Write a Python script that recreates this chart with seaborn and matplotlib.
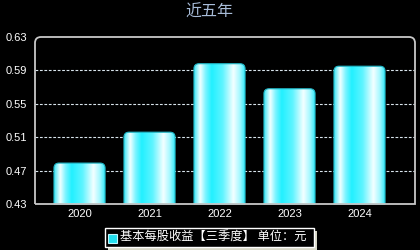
import numpy as np
import pandas as pd
import seaborn as sns
import matplotlib
matplotlib.use("Agg")
import matplotlib.pyplot as plt
from matplotlib.path import Path
from matplotlib.patches import PathPatch, Rectangle
from matplotlib.transforms import IdentityTransform
from matplotlib.colors import LinearSegmentedColormap

years = ["2020", "2021", "2022", "2023", "2024"]
eps = [0.479, 0.516, 0.598, 0.568, 0.595]
yticks = [0.43, 0.47, 0.51, 0.55, 0.59, 0.63]
title = "近五年"
legend_label = "基本每股收益【三季度】 单位：元"

sns.set_theme(style="dark")
plt.rcParams['font.family'] = ['Noto Sans CJK SC', 'DejaVu Sans']

W, H = 420, 250
fig = plt.figure(figsize=(W / 100, H / 100), dpi=100, facecolor="black")
# axes in pixel coords: left 35, right 415, top 37, bottom 204
ax = fig.add_axes([35 / W, (H - 204) / H, 380 / W, 167 / H])
ax.set_facecolor("black")

df = pd.DataFrame({"year": years, "eps": eps})
sns.barplot(data=df, x="year", y="eps", ax=ax, color="#22f0ff", width=0.73,
            saturation=1)

ax.set_ylim(0.43, 0.63)
ax.set_xlim(-0.636, 4.793)
ax.set_yticks(yticks)
ax.set_yticklabels([f"{v:.2f}" for v in yticks])
ax.set_xlabel("")
ax.set_ylabel("")
ax.tick_params(colors="white", labelsize=8, length=0)
ax.tick_params(axis="y", pad=5.5)
ax.tick_params(axis="x", pad=3.5)
for lab in ax.get_xticklabels() + ax.get_yticklabels():
    lab.set_color("white")
    lab.set_family(["Liberation Sans", "DejaVu Sans"])
for s in ax.spines.values():
    s.set_visible(False)
ax.grid(False)
for v in yticks[1:-1]:
    ax.axhline(v, color="#d8e4ec", lw=0.8, ls=(0, (2.5, 1.5)), zorder=0.5)

fig.canvas.draw()

cmap = LinearSegmentedColormap.from_list("bar", [
    (0.0, "#3fe4f4"), (0.12, "#f2ffff"), (0.22, "#7ff4ff"), (0.34, "#22f0ff"),
    (0.55, "#5ef4ff"), (0.76, "#f4ffff"), (0.88, "#a8f8ff"), (1.0, "#22e8fa")])
grad = np.linspace(0, 1, 256).reshape(1, -1)

r = 5.0
for p in list(ax.patches):
    x0, w, h = p.get_x(), p.get_width(), p.get_height()
    p.set_visible(False)
    (px0, py0), (px1, py1) = ax.transData.transform([(x0, 0.43), (x0 + w, h)])
    verts = [(px0, py0), (px0, py1 - r), (px0, py1), (px0 + r, py1),
             (px1 - r, py1), (px1, py1), (px1, py1 - r), (px1, py0), (px0, py0)]
    codes = [Path.MOVETO, Path.LINETO, Path.CURVE3, Path.CURVE3,
             Path.LINETO, Path.CURVE3, Path.CURVE3, Path.LINETO, Path.CLOSEPOLY]
    path = Path(verts, codes)
    clip = PathPatch(path, transform=IdentityTransform(), facecolor="none",
                     edgecolor="#20b8c8", lw=0.8, zorder=3)
    fig.add_artist(clip)
    im = ax.imshow(grad, cmap=cmap, aspect="auto",
                   extent=[x0, x0 + w, 0.43, h], zorder=2, interpolation="bilinear")
    im.set_clip_path(clip)
ax.set_xlim(-0.636, 4.793)
ax.set_ylim(0.43, 0.63)

# frame with rounded top corners
L, R, T, B = 35, 415, H - 37, H - 204
rc = 6
fverts = [(L, B), (L, T - rc), (L, T), (L + rc, T), (R - rc, T), (R, T),
          (R, T - rc), (R, B), (L, B)]
fcodes = [Path.MOVETO, Path.LINETO, Path.CURVE3, Path.CURVE3, Path.LINETO,
          Path.CURVE3, Path.CURVE3, Path.LINETO, Path.LINETO]
fig.add_artist(PathPatch(Path(fverts, fcodes), transform=IdentityTransform(),
                         facecolor="none", edgecolor="#c8c8c8", lw=1.3, zorder=5))

fig.text(209 / W, 1 - 12 / H, title, color="#a8bcd8", fontsize=11.5,
         ha="center", va="center")

# legend with shadow
lx0, ly0, lx1, ly1 = 105, H - 247, 314, H - 228
fig.add_artist(Rectangle((lx0 + 3, ly0 - 3), lx1 - lx0, ly1 - ly0,
                         transform=IdentityTransform(), facecolor="#d8d8c8",
                         edgecolor="none", zorder=6))
fig.add_artist(Rectangle((lx0, ly0), lx1 - lx0, ly1 - ly0,
                         transform=IdentityTransform(), facecolor="black",
                         edgecolor="white", lw=1, zorder=7))
fig.add_artist(Rectangle((108, H - 243), 9, 9, transform=IdentityTransform(),
                         facecolor="#22e0f0", edgecolor="#c0f8ff", lw=0.8, zorder=8))
fig.text(120 / W, 1 - 237.5 / H, legend_label, color="white", fontsize=8.8,
         ha="left", va="center", zorder=9)

fig.savefig("out.png", dpi=100, facecolor="black")
